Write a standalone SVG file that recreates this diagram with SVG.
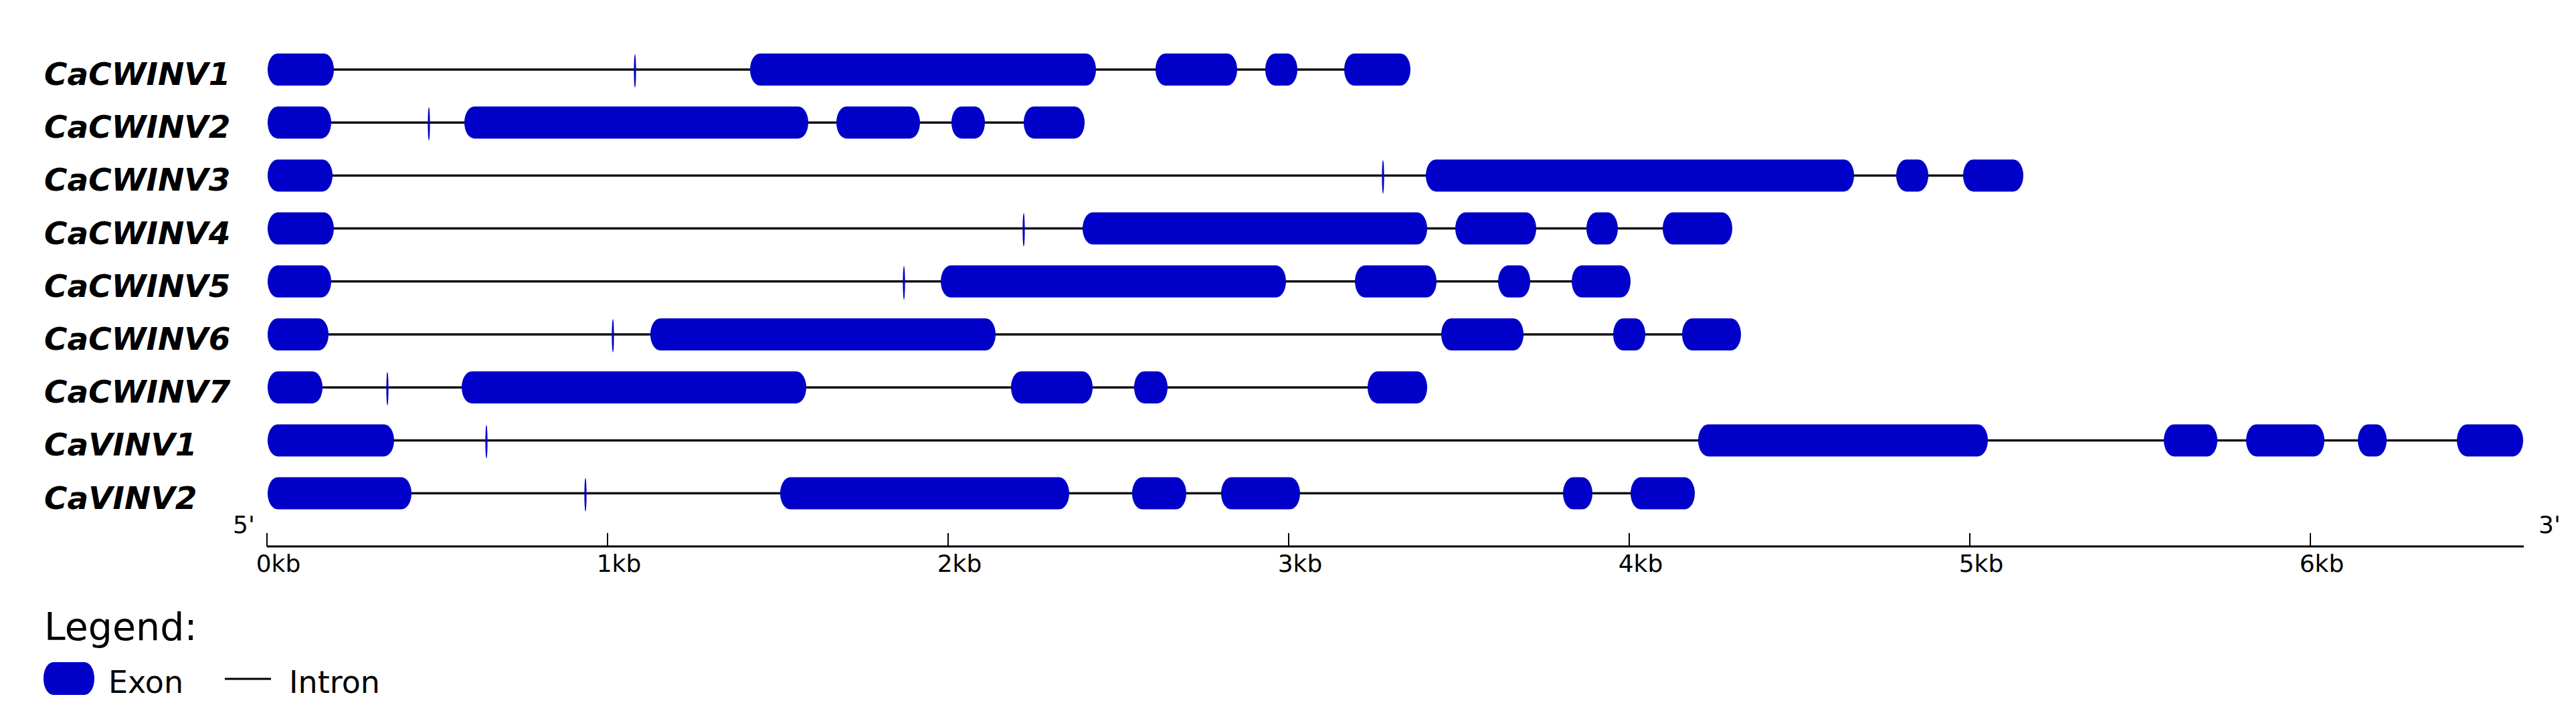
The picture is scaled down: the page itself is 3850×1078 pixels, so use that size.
<svg xmlns="http://www.w3.org/2000/svg" width="3850" height="1078" viewBox="0 0 3850 1078">
<style>
.lbl{font-family:"DejaVu Sans",Verdana,sans-serif;font-weight:bold;font-style:italic;font-size:47px;fill:#000}
.ax{font-family:"DejaVu Sans",Verdana,sans-serif;font-size:36px;fill:#000}
.lg{font-family:"DejaVu Sans",Verdana,sans-serif;fill:#000}
.exon{fill:#0000c8}
.intron{stroke:#111;stroke-width:3.5;fill:none}
.tick{fill:#0000c8}
.axis{stroke:#000;stroke-width:3;fill:none}
.axt{stroke:#000;stroke-width:2;fill:none}
</style>
<rect width="3850" height="1078" fill="#fff"/>
<g id="connectors">
<line class="intron" x1="400" y1="104" x2="2108" y2="104"/>
<line class="intron" x1="400" y1="183.2" x2="1621" y2="183.2"/>
<line class="intron" x1="400" y1="262.4" x2="3024" y2="262.4"/>
<line class="intron" x1="400" y1="341.6" x2="2589" y2="341.6"/>
<line class="intron" x1="400" y1="420.8" x2="2437" y2="420.8"/>
<line class="intron" x1="400" y1="500" x2="2602" y2="500"/>
<line class="intron" x1="400" y1="579.2" x2="2133" y2="579.2"/>
<line class="intron" x1="400" y1="658.4" x2="3771" y2="658.4"/>
<line class="intron" x1="400" y1="737.6" x2="2533" y2="737.6"/>
</g>
<g id="CaCWINV1">
<text class="lbl" x="66" y="127">CaCWINV1</text>
<rect class="exon" x="400" y="80" width="99" height="48" rx="15" ry="24"/>
<rect class="exon" x="1121" y="80" width="517" height="48" rx="15" ry="24"/>
<rect class="exon" x="1727" y="80" width="122" height="48" rx="15" ry="24"/>
<rect class="exon" x="1891" y="80" width="48" height="48" rx="15" ry="24"/>
<rect class="exon" x="2009" y="80" width="99" height="48" rx="15" ry="24"/>
<ellipse class="tick" cx="949" cy="106" rx="1.6" ry="25"/>
</g>
<g id="CaCWINV2">
<text class="lbl" x="66" y="206.2">CaCWINV2</text>
<rect class="exon" x="400" y="159.2" width="95" height="48" rx="15" ry="24"/>
<rect class="exon" x="694" y="159.2" width="514" height="48" rx="15" ry="24"/>
<rect class="exon" x="1250" y="159.2" width="125" height="48" rx="15" ry="24"/>
<rect class="exon" x="1422" y="159.2" width="50" height="48" rx="15" ry="24"/>
<rect class="exon" x="1530" y="159.2" width="91" height="48" rx="15" ry="24"/>
<ellipse class="tick" cx="641" cy="185.2" rx="1.6" ry="25"/>
</g>
<g id="CaCWINV3">
<text class="lbl" x="66" y="285.4">CaCWINV3</text>
<rect class="exon" x="400" y="238.4" width="97" height="48" rx="15" ry="24"/>
<rect class="exon" x="2131" y="238.4" width="640" height="48" rx="15" ry="24"/>
<rect class="exon" x="2834" y="238.4" width="48" height="48" rx="15" ry="24"/>
<rect class="exon" x="2934" y="238.4" width="90" height="48" rx="15" ry="24"/>
<ellipse class="tick" cx="2067" cy="264.4" rx="1.6" ry="25"/>
</g>
<g id="CaCWINV4">
<text class="lbl" x="66" y="364.6">CaCWINV4</text>
<rect class="exon" x="400" y="317.6" width="99" height="48" rx="15" ry="24"/>
<rect class="exon" x="1618" y="317.6" width="515" height="48" rx="15" ry="24"/>
<rect class="exon" x="2175" y="317.6" width="121" height="48" rx="15" ry="24"/>
<rect class="exon" x="2371" y="317.6" width="47" height="48" rx="15" ry="24"/>
<rect class="exon" x="2485" y="317.6" width="104" height="48" rx="15" ry="24"/>
<ellipse class="tick" cx="1530" cy="343.6" rx="1.6" ry="25"/>
</g>
<g id="CaCWINV5">
<text class="lbl" x="66" y="443.8">CaCWINV5</text>
<rect class="exon" x="400" y="396.8" width="95" height="48" rx="15" ry="24"/>
<rect class="exon" x="1406" y="396.8" width="516" height="48" rx="15" ry="24"/>
<rect class="exon" x="2025" y="396.8" width="122" height="48" rx="15" ry="24"/>
<rect class="exon" x="2239" y="396.8" width="48" height="48" rx="15" ry="24"/>
<rect class="exon" x="2349" y="396.8" width="88" height="48" rx="15" ry="24"/>
<ellipse class="tick" cx="1351" cy="422.8" rx="1.6" ry="25"/>
</g>
<g id="CaCWINV6">
<text class="lbl" x="66" y="523">CaCWINV6</text>
<rect class="exon" x="400" y="476" width="91" height="48" rx="15" ry="24"/>
<rect class="exon" x="972" y="476" width="516" height="48" rx="15" ry="24"/>
<rect class="exon" x="2154" y="476" width="123" height="48" rx="15" ry="24"/>
<rect class="exon" x="2411" y="476" width="48" height="48" rx="15" ry="24"/>
<rect class="exon" x="2514" y="476" width="88" height="48" rx="15" ry="24"/>
<ellipse class="tick" cx="916" cy="502" rx="1.6" ry="25"/>
</g>
<g id="CaCWINV7">
<text class="lbl" x="66" y="602.2">CaCWINV7</text>
<rect class="exon" x="400" y="555.2" width="82" height="48" rx="15" ry="24"/>
<rect class="exon" x="690" y="555.2" width="515" height="48" rx="15" ry="24"/>
<rect class="exon" x="1511" y="555.2" width="122" height="48" rx="15" ry="24"/>
<rect class="exon" x="1695" y="555.2" width="50" height="48" rx="15" ry="24"/>
<rect class="exon" x="2044" y="555.2" width="89" height="48" rx="15" ry="24"/>
<ellipse class="tick" cx="579" cy="581.2" rx="1.6" ry="25"/>
</g>
<g id="CaVINV1">
<text class="lbl" x="66" y="681.4">CaVINV1</text>
<rect class="exon" x="400" y="634.4" width="189" height="48" rx="15" ry="24"/>
<rect class="exon" x="2538" y="634.4" width="433" height="48" rx="15" ry="24"/>
<rect class="exon" x="3234" y="634.4" width="80" height="48" rx="15" ry="24"/>
<rect class="exon" x="3357" y="634.4" width="117" height="48" rx="15" ry="24"/>
<rect class="exon" x="3524" y="634.4" width="43" height="48" rx="15" ry="24"/>
<rect class="exon" x="3672" y="634.4" width="99" height="48" rx="15" ry="24"/>
<ellipse class="tick" cx="727" cy="660.4" rx="1.6" ry="25"/>
</g>
<g id="CaVINV2">
<text class="lbl" x="66" y="760.6">CaVINV2</text>
<rect class="exon" x="400" y="713.6" width="215" height="48" rx="15" ry="24"/>
<rect class="exon" x="1166" y="713.6" width="432" height="48" rx="15" ry="24"/>
<rect class="exon" x="1692" y="713.6" width="81" height="48" rx="15" ry="24"/>
<rect class="exon" x="1825" y="713.6" width="118" height="48" rx="15" ry="24"/>
<rect class="exon" x="2336" y="713.6" width="44" height="48" rx="15" ry="24"/>
<rect class="exon" x="2437" y="713.6" width="96" height="48" rx="15" ry="24"/>
<ellipse class="tick" cx="875" cy="739.6" rx="1.6" ry="25"/>
</g>
<g id="axis">
<line class="axis" x1="399" y1="817" x2="3772" y2="817"/>
<line class="axt" x1="399" y1="797" x2="399" y2="817"/>
<line class="axt" x1="908" y1="797" x2="908" y2="817"/>
<line class="axt" x1="1417" y1="797" x2="1417" y2="817"/>
<line class="axt" x1="1926" y1="797" x2="1926" y2="817"/>
<line class="axt" x1="2435" y1="797" x2="2435" y2="817"/>
<line class="axt" x1="2944" y1="797" x2="2944" y2="817"/>
<line class="axt" x1="3453" y1="797" x2="3453" y2="817"/>
<text class="ax" x="348" y="797">5'</text>
<text class="ax" x="3794" y="797">3'</text>
<text class="ax" x="416" y="855" text-anchor="middle">0kb</text>
<text class="ax" x="925" y="855" text-anchor="middle">1kb</text>
<text class="ax" x="1434" y="855" text-anchor="middle">2kb</text>
<text class="ax" x="1943" y="855" text-anchor="middle">3kb</text>
<text class="ax" x="2452" y="855" text-anchor="middle">4kb</text>
<text class="ax" x="2961" y="855" text-anchor="middle">5kb</text>
<text class="ax" x="3470" y="855" text-anchor="middle">6kb</text>
</g>
<g id="legend">
<text class="lg" x="66" y="957" font-size="57">Legend:</text>
<rect class="exon" x="65" y="990" width="76" height="49" rx="15" ry="24"/>
<text class="lg" x="162" y="1036" font-size="46">Exon</text>
<line x1="336" y1="1015" x2="405" y2="1015" stroke="#000" stroke-width="3"/>
<text class="lg" x="432" y="1036" font-size="46">Intron</text>
</g>
</svg>
